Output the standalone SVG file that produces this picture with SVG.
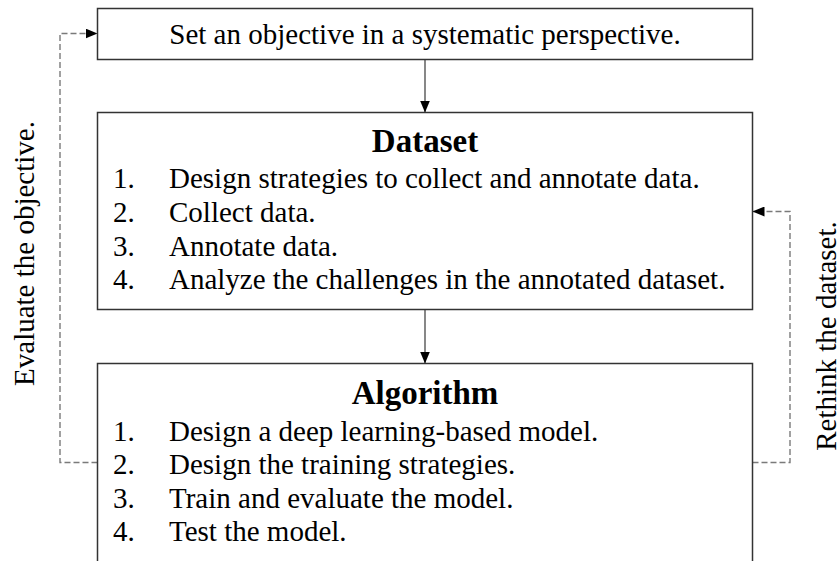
<svg xmlns="http://www.w3.org/2000/svg" width="840" height="561" viewBox="0 0 840 561">
  <style>
    .box { fill: #ffffff; stroke: #333333; stroke-width: 1.5; }
    .t { font-family: "Liberation Serif", "Times New Roman", serif; font-size: 29px; fill: #000000; }
    .h { font-family: "Liberation Serif", "Times New Roman", serif; font-size: 33px; font-weight: bold; fill: #000000; text-anchor: middle; }
    .solid { fill: none; stroke: #555555; stroke-width: 1.4; }
    .dash { fill: none; stroke: #7a7a7a; stroke-width: 1.4; stroke-dasharray: 6 3; }
  </style>
  <defs>
    <marker id="arr" viewBox="0 0 12 10" refX="12" refY="5" markerWidth="12" markerHeight="10" markerUnits="userSpaceOnUse" orient="auto">
      <path d="M0,0 L12,5 L0,10 Z" fill="#000000"/>
    </marker>
  </defs>
  <rect width="840" height="561" fill="#ffffff"/>

  <g id="connectors">
    <line class="solid" x1="425" y1="59.5" x2="425" y2="112.5" marker-end="url(#arr)"/>
    <line class="solid" x1="425" y1="309.5" x2="425" y2="363.5" marker-end="url(#arr)"/>
    <polyline class="dash" points="97.5,462.5 60,462.5 60,33.5 97.5,33.5" marker-end="url(#arr)"/>
    <polyline class="dash" points="752.5,462.5 790,462.5 790,211.5 752.5,211.5" marker-end="url(#arr)"/>
  </g>

  <g id="objective">
    <rect class="box" x="97.5" y="8.5" width="655" height="51"/>
    <text class="t" x="425" y="44" text-anchor="middle">Set an objective in a systematic perspective.</text>
  </g>

  <g id="dataset">
    <rect class="box" x="97.5" y="112.5" width="655" height="197"/>
    <text class="h" x="425" y="151.5">Dataset</text>
    <text class="t" x="113" y="188.3">1.</text>
    <text class="t" x="169" y="188.3">Design strategies to collect and annotate data.</text>
    <text class="t" x="113" y="222">2.</text>
    <text class="t" x="169" y="222">Collect data.</text>
    <text class="t" x="113" y="255.6">3.</text>
    <text class="t" x="169" y="255.6">Annotate data.</text>
    <text class="t" x="113" y="289.2">4.</text>
    <text class="t" x="169" y="289.2">Analyze the challenges in the annotated dataset.</text>
  </g>

  <g id="algorithm">
    <rect class="box" x="97.5" y="363.5" width="655" height="220"/>
    <text class="h" x="425" y="403.5">Algorithm</text>
    <text class="t" x="113" y="440.5">1.</text>
    <text class="t" x="169" y="440.5">Design a deep learning-based model.</text>
    <text class="t" x="113" y="474">2.</text>
    <text class="t" x="169" y="474">Design the training strategies.</text>
    <text class="t" x="113" y="507.6">3.</text>
    <text class="t" x="169" y="507.6">Train and evaluate the model.</text>
    <text class="t" x="113" y="541.2">4.</text>
    <text class="t" x="169" y="541.2">Test the model.</text>
  </g>

  <g id="label-evaluate">
    <text class="t" text-anchor="middle" transform="translate(33.5,253.5) rotate(-90)">Evaluate the objective.</text>
  </g>
  <g id="label-rethink">
    <text class="t" text-anchor="middle" transform="translate(835.5,336) rotate(-90)">Rethink the dataset.</text>
  </g>
</svg>
